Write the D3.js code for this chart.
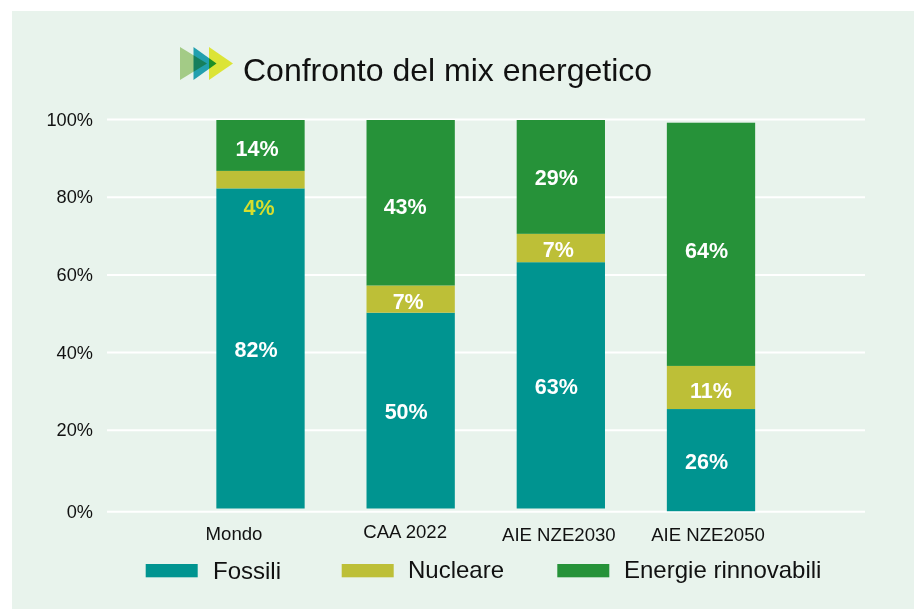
<!DOCTYPE html>
<html><head><meta charset="utf-8">
<script src="https://cdn.jsdelivr.net/npm/d3@7"></script>
<style>html,body{margin:0;padding:0;background:#fff}svg{display:block}text{font-family:"Liberation Sans",Arial,sans-serif}</style>
</head><body><svg id="c" width="914" height="609"></svg>
<script>
const categories=["Mondo","CAA 2022","AIE NZE2030","AIE NZE2050"];
const seriesNames=["Fossili","Nucleare","Energie rinnovabili"];
const baseValues=[0,0,0,-0.7];
const fossili=[82.4,50.4,63.4,26.3];
const nucleare=[4.5,7,7.3,11.1];
const rinnovabili=[13.1,42.6,29.3,62.6];
const labelsF=["82%","50%","63%","26%"];
const labelsN=["4%","7%","7%","11%"];
const labelsR=["14%","43%","29%","64%"];
const ticks=[0,20,40,60,80,100];
const colors=["#009490","#bdbf37","#269239"];

const svg=d3.select("#c");
svg.append("rect").attr("x",12).attr("y",11).attr("width",902).attr("height",598).attr("fill","#e8f3ec");
const y=d3.scaleLinear().domain([0,100]).range([508.5,120]);
const x=d3.scalePoint().domain(categories).range([260.5,711]);
const bw=88.3;
const gridY=d=>d===0?y(-0.85):y(d)-0.5;
svg.append("g").selectAll("line").data(ticks).join("line")
 .attr("x1",107).attr("x2",865).attr("y1",gridY).attr("y2",gridY).attr("stroke","#fff").attr("stroke-width",2);
svg.append("g").selectAll("text").data(ticks).join("text")
 .attr("x",93).attr("y",d=>gridY(d)+6).attr("text-anchor","end").attr("font-size",18.2).attr("fill","#111").text(d=>d+"%");
const arrays=[fossili,nucleare,rinnovabili];
const labels=[labelsF,labelsN,labelsR];
const layers=arrays.map((a,k)=>a.map((v,i)=>{
  const start=baseValues[i]+d3.sum(arrays.slice(0,k),b=>b[i]);
  return [start,start+v];
}));
layers.forEach((s,k)=>{
 svg.append("g").selectAll("rect").data(s).join("rect")
  .attr("x",(d,i)=>x(categories[i])-bw/2).attr("width",bw)
  .attr("y",d=>y(d[1])).attr("height",d=>y(d[0])-y(d[1])).attr("fill",colors[k]);
});
const labelNudge=[[1,1,1,1],[0,2.5,1.5,2.5],[2.5,4,0,6]];
const labelShiftX=[[-4.5,-4.5,-4.5,-4.5],[-1.5,-2.5,-2.5,0],[-3.5,-5.5,-4.5,-4.5]];
layers.forEach((s,k)=>{
 svg.append("g").selectAll("text").data(s).join("text")
  .attr("x",(d,i)=>x(categories[i])+labelShiftX[k][i])
  .attr("y",(d,i)=>{
    if(k===1&&i===0) return y(fossili[0])+26.5;
    return y((d[0]+d[1])/2)+7.7+labelNudge[k][i];})
  .attr("text-anchor","middle").attr("font-size",21.5).attr("font-weight","bold")
  .attr("fill",(d,i)=>(k===1&&i===0)?"#d6de2e":"#fff")
  .text((d,i)=>labels[k][i]);
});
const catOffset=[-26.5,-5.5,-2,-3], catY=[540,538,541,541];
svg.append("g").selectAll("text").data(categories).join("text")
 .attr("x",(d,i)=>x(d)+catOffset[i]).attr("y",(d,i)=>catY[i]).attr("text-anchor","middle").attr("font-size",18.6).attr("fill","#111").text(d=>d);
const legendX=[145.7,341.7,557.3], legendT=[213,408,624], legendB=[579,578,577.7];
seriesNames.forEach((n,i)=>{
 svg.append("rect").attr("x",legendX[i]).attr("y",564).attr("width",52).attr("height",13.3).attr("fill",colors[i]);
 svg.append("text").attr("x",legendT[i]).attr("y",legendB[i]).attr("font-size",24).attr("fill","#111").text(n);
});
svg.append("text").attr("x",243).attr("y",81).attr("font-size",32).attr("fill","#111").text("Confronto del mix energetico");
const tri=[[180,27,"#a3cb86"],[193.5,23,"#22a0ae"],[209,24,"#dce436"]];
const logo=svg.append("g").style("isolation","isolate");
tri.forEach(t=>{logo.append("polygon").attr("points",`${t[0]},47 ${t[0]+t[1]},63.5 ${t[0]},80`).attr("fill",t[2]).style("mix-blend-mode","multiply");});
</script></body></html>
